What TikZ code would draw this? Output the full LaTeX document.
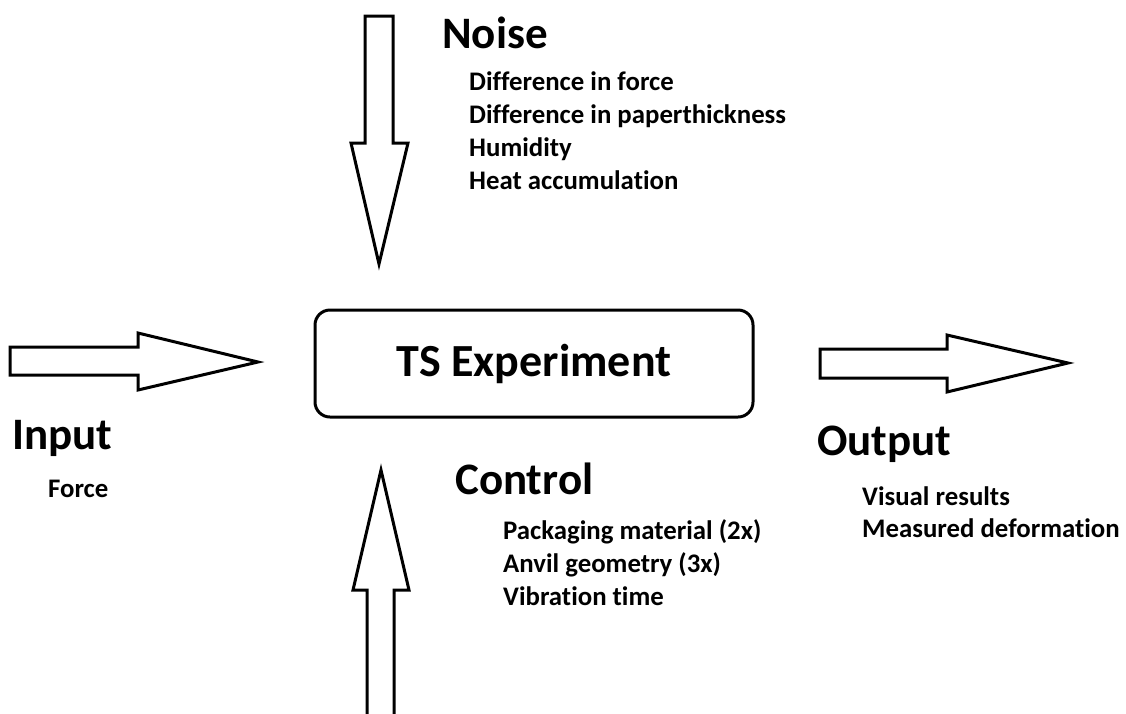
\documentclass[tikz,border=0pt]{standalone}
\usepackage{fontspec}
\setmainfont{Carlito}[Ligatures=NoCommon]
\tikzset{
  blockarrow/.style={draw=black, line width=3pt, line join=miter, fill=white},
  head/.style={font=\bfseries\fontsize{45}{54}\selectfont, anchor=base west, inner sep=0pt},
  item/.style={font=\bfseries\fontsize{26.8}{32}\selectfont, anchor=base west, inner sep=0pt},
  expbox/.style={draw=black, line width=3pt, rounded corners=15pt, minimum width=438pt, minimum height=107pt, inner sep=0pt, font=\bfseries\fontsize{46}{55}\selectfont}
}
\begin{document}
\begin{tikzpicture}[x=1pt, y=-1pt]
\useasboundingbox[fill=white] (0,0) rectangle (1126,713);

% central box
\node[expbox] (exp) at (534,363.5) {TS Experiment};

% noise arrow (top)
\draw[blockarrow] (365,16) -- (393,16) -- (393,143) -- (408,143) -- (379,264) -- (351,143) -- (365,143) -- cycle;
% input arrow
\draw[blockarrow] (10,347) -- (138,347) -- (138,333) -- (258,362) -- (138,390) -- (138,375) -- (10,375) -- cycle;
% output arrow
\draw[blockarrow] (820,349) -- (947,349) -- (947,335) -- (1068,363) -- (947,392) -- (947,378) -- (820,378) -- cycle;
% control arrow (bottom, open at the bottom edge)
\draw[blockarrow, fill=none] (367,716) -- (367,590) -- (353,590) -- (381,470) -- (409,590) -- (394,590) -- (394,716);

% Noise
\node[head] (noise) at (442,48.5) {Noise};
\node[item] (n1) at (469,90.5) {Difference in force};
\node[item] (n2) at (469,123.5) {Difference in paperthickness};
\node[item] (n3) at (469,156.5) {Humidity};
\node[item] (n4) at (469,189.5) {Heat accumulation};

% Input
\node[head] (input) at (12,449) {Input};
\node[item] (i1) at (48,497.5) {Force};

% Output
\node[head] (output) at (817,455) {Output};
\node[item] (o1) at (862,505) {Visual results};
\node[item] (o2) at (862,537) {Measured deformation};

% Control
\node[head] (control) at (455,494) {Control};
\node[item] (c1) at (503,539) {Packaging material (2x)};
\node[item] (c2) at (503,572) {Anvil geometry (3x)};
\node[item] (c3) at (503,605) {Vibration time};
\end{tikzpicture}
\end{document}
